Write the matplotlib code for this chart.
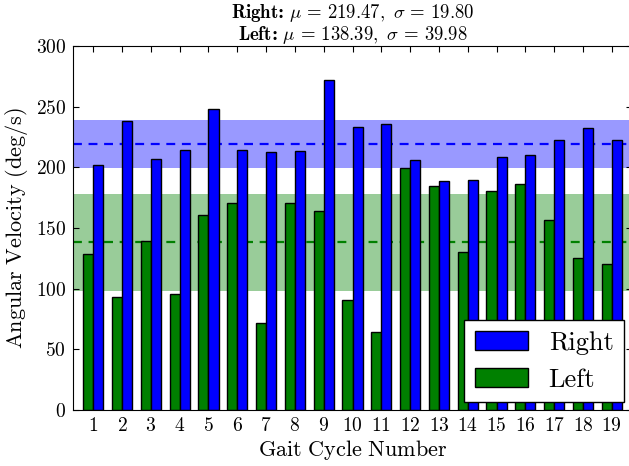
import numpy as np
import matplotlib
matplotlib.use("Agg")
from matplotlib import pyplot as plt

cycles = list(range(1, 20))
right = [201.6, 237.9, 207.1, 214.3, 248.4, 214.0, 212.9, 213.5, 272.0, 233.2,
         235.7, 206.0, 188.5, 189.8, 208.2, 209.9, 222.3, 232.7, 222.3]
left = [128.6, 92.9, 139.0, 95.6, 160.4, 170.9, 71.4, 170.9, 163.7, 90.7,
        64.3, 199.5, 184.3, 130.2, 180.2, 186.5, 156.9, 125.0, 120.1]

right_mean, right_std = 219.47, 19.80
left_mean, left_std = 138.39, 39.98

plt.rcParams['font.family'] = 'cmr10'
plt.rcParams['mathtext.fontset'] = 'cm'
plt.rcParams['axes.formatter.use_mathtext'] = True
plt.rcParams['axes.unicode_minus'] = False

fig = plt.figure(figsize=(6.29, 4.66), dpi=100)
ax = fig.add_axes([73 / 629, 1 - 410 / 466, 559 / 629, 364 / 466])

x = np.array(cycles)
w = 0.35

# mean +/- std bands
ax.axhspan(right_mean - right_std, right_mean + right_std, color='blue', alpha=0.4, lw=0, zorder=0)
ax.axhspan(left_mean - left_std, left_mean + left_std, color='green', alpha=0.4, lw=0, zorder=0)
ax.axhline(right_mean, color='blue', ls=(0, (4, 3)), lw=1.6, zorder=1)
ax.axhline(left_mean, color='green', ls=(0, (4, 3)), lw=1.6, zorder=1)

ax.bar(x - w, left, w, align='edge', color='green', edgecolor='black', lw=1, label='Left', zorder=2)
ax.bar(x, right, w, align='edge', color='blue', edgecolor='black', lw=1, label='Right', zorder=2)

ax.set_xlim(0.3, 19.7)
ax.set_ylim(0, 300)
ax.set_xticks(cycles)
ax.set_yticks(range(0, 301, 50))
ax.tick_params(direction='in', top=True, right=True, length=4, labelsize=14, pad=5)

ax.set_xlabel(r'$\mathrm{Gait\ Cycle\ Number}$', fontsize=16, labelpad=2)
ax.set_ylabel(r'$\mathrm{Angular\ Velocity\ (deg/s)}$', fontsize=16, labelpad=4)
line1 = r'$\mathbf{Right\colon}\ \mu\,=\,%.2f,\ \sigma\,=\,%.2f$' % (right_mean, right_std)
line2 = r'$\mathbf{Left\colon}\ \mu\,=\,%.2f,\ \sigma\,=\,%.2f$' % (left_mean, left_std)
ax.set_title(line1 + '\n' + line2, fontsize=13.5, linespacing=1.05, pad=4)

handles, labels = ax.get_legend_handles_labels()
leg = ax.legend(handles[::-1], labels[::-1], loc='lower right', fontsize=19,
                fancybox=False, framealpha=1, edgecolor='black', borderaxespad=0.3)
leg.get_frame().set_linewidth(1)

plt.savefig('out.png', dpi=100)
plt.close('all')
